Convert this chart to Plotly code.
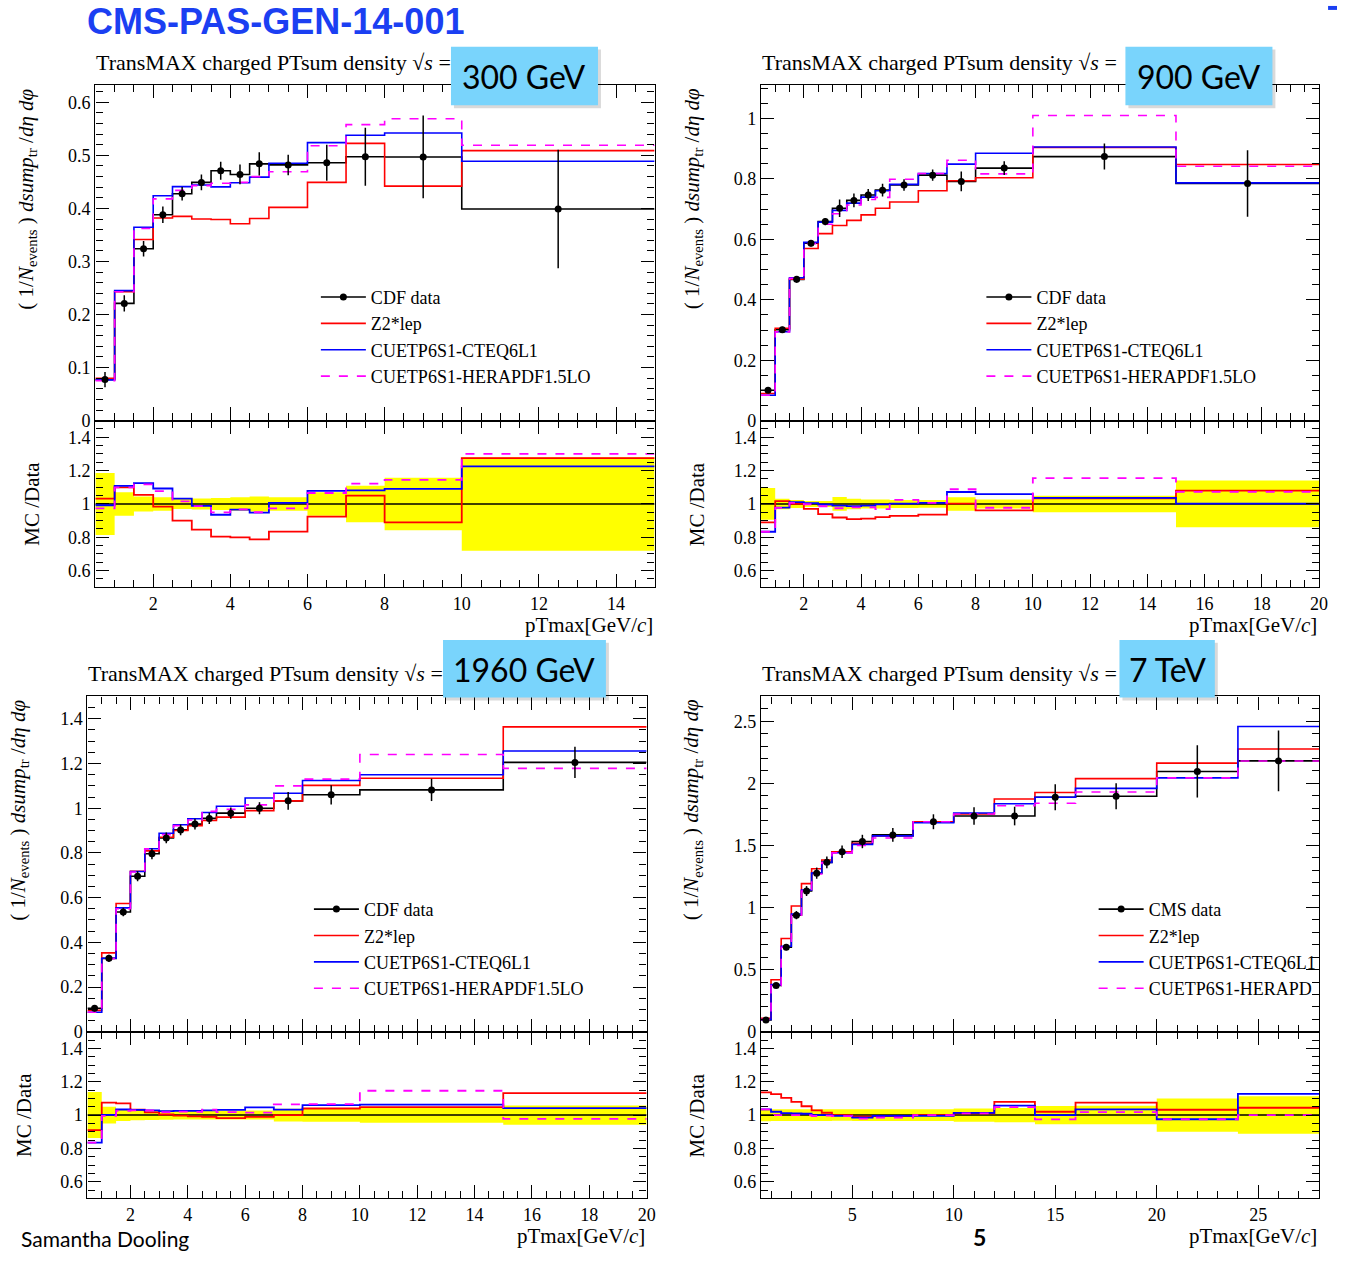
import plotly.graph_objects as go

W, H = 1346, 1262

# ---------------- data ----------------
# 300 GeV
edges_300 = [0.5, 1, 1.5, 2, 2.5, 3, 3.5, 4, 4.5, 5, 6, 7, 8, 10, 15]
data_300 = [0.0775, 0.221, 0.324, 0.388, 0.4275, 0.449, 0.471, 0.464, 0.484, 0.482, 0.486, 0.4975, 0.497, 0.399]
err_300 = [0.0144, 0.0155, 0.0146, 0.0155, 0.0128, 0.0148, 0.017, 0.0186, 0.0218, 0.0193, 0.034, 0.0547, 0.078, 0.1117]
red_300 = [0.080, 0.243, 0.3415, 0.382, 0.385, 0.380, 0.379, 0.371, 0.381, 0.402, 0.449, 0.5225, 0.442, 0.509]
blue_300 = [0.0769, 0.245, 0.3645, 0.424, 0.441, 0.444, 0.4405, 0.4485, 0.459, 0.485, 0.524, 0.538, 0.542, 0.489]
mag_300 = [0.0755, 0.243, 0.362, 0.418, 0.434, 0.443, 0.4475, 0.449, 0.46, 0.469, 0.518, 0.558, 0.569, 0.519]

# 900 GeV
edges_900 = [0.5, 1, 1.5, 2, 2.5, 3, 3.5, 4, 4.5, 5, 6, 7, 8, 10, 15, 20]
data_900 = [0.1008, 0.301, 0.4677, 0.587, 0.659, 0.703, 0.729, 0.747, 0.763, 0.780, 0.8127, 0.792, 0.836, 0.874, 0.785]
err_900 = [0.0096, 0.0094, 0.011, 0.0105, 0.012, 0.029, 0.0227, 0.020, 0.021, 0.019, 0.019, 0.0325, 0.023, 0.043, 0.11]
red_900 = [0.0897, 0.306, 0.468, 0.570, 0.619, 0.646, 0.663, 0.681, 0.703, 0.724, 0.761, 0.794, 0.804, 0.904, 0.848]
blue_900 = [0.084, 0.2945, 0.473, 0.590, 0.657, 0.696, 0.720, 0.740, 0.761, 0.782, 0.818, 0.849, 0.885, 0.906, 0.787]
mag_900 = [0.084, 0.294, 0.471, 0.586, 0.650, 0.685, 0.714, 0.732, 0.739, 0.799, 0.818, 0.862, 0.817, 1.01, 0.842]

# 1960 GeV
edges_1960 = [0.5, 1, 1.5, 2, 2.5, 3, 3.5, 4, 4.5, 5, 6, 7, 8, 10, 15, 20]
data_1960 = [0.105, 0.3285, 0.536, 0.6956, 0.796, 0.867, 0.903, 0.929, 0.9545, 0.978, 1.0, 1.033, 1.06, 1.082, 1.205]
err_1960 = [0.0145, 0.0164, 0.0188, 0.022, 0.024, 0.024, 0.0245, 0.024, 0.025, 0.0254, 0.027, 0.040, 0.043, 0.050, 0.070]
red_1960 = [0.0955, 0.353, 0.574, 0.718, 0.809, 0.870, 0.900, 0.922, 0.945, 0.960, 0.989, 1.033, 1.102, 1.134, 1.364]
blue_1960 = [0.0876, 0.329, 0.554, 0.717, 0.819, 0.888, 0.926, 0.953, 0.981, 1.009, 1.046, 1.067, 1.124, 1.150, 1.256]
mag_1960 = [0.0876, 0.327, 0.550, 0.715, 0.818, 0.882, 0.922, 0.947, 0.986, 0.995, 1.015, 1.100, 1.130, 1.240, 1.178]

# 7 TeV
edges_7000 = [0.5, 1, 1.5, 2, 2.5, 3, 3.5, 4, 5, 6, 8, 10, 12, 14, 16, 20, 24, 28]
data_7000 = [0.0957, 0.372, 0.681, 0.939, 1.133, 1.277, 1.364, 1.449, 1.532, 1.585, 1.691, 1.737, 1.737, 1.888, 1.896, 2.096, 2.181]
err_7000 = [0.0035, 0.013, 0.024, 0.033, 0.040, 0.045, 0.048, 0.050, 0.054, 0.056, 0.060, 0.070, 0.075, 0.104, 0.105, 0.210, 0.245]
red_7000 = [0.1088, 0.419, 0.751, 1.013, 1.193, 1.313, 1.383, 1.449, 1.517, 1.576, 1.691, 1.754, 1.874, 1.926, 2.038, 2.163, 2.277]
blue_7000 = [0.099, 0.3795, 0.689, 0.948, 1.142, 1.277, 1.364, 1.442, 1.509, 1.577, 1.683, 1.761, 1.836, 1.888, 1.960, 2.044, 2.458]
mag_7000 = [0.099, 0.372, 0.681, 0.939, 1.133, 1.270, 1.360, 1.440, 1.500, 1.560, 1.691, 1.754, 1.820, 1.840, 1.930, 2.044, 2.180]

names_mc = ["Z2*lep", "CUETP6S1-CTEQ6L1", "CUETP6S1-HERAPDF1.5LO"]
# the 7 TeV legend runs off the slide edge in the original; only the visible part is shown
names_mc_7000 = ["Z2*lep", "CUETP6S1-CTEQ6L1", "CUETP6S1-HERAPD"]
energy_labels = ["300 GeV", "900 GeV", "1960 GeV", "7 TeV"]
data_labels = ["CDF data", "CDF data", "CDF data", "CMS data"]

# ---------------- layout helpers ----------------
def px(x):
    return x / W


def py(y):
    return 1 - y / H


SERIF = "Liberation Serif"
RED, BLUE, MAG, YEL = "#ff0000", "#0000ff", "#ff00ff", "#ffff00"

panels = [
    dict(x0=96, x1=659, yt=86, ym=424, yb=592, edges=edges_300, data=data_300, err=err_300,
         red=red_300, blue=blue_300, mag=mag_300, yr=[0, 0.632], dy=0.1, mdy=0.02,
         xr=[0.5, 15], dx=2, mdx=0.5, leg=(318, 281), names=names_mc),
    dict(x0=766, x1=1328, yt=86, ym=424, yb=592, edges=edges_900, data=data_900, err=err_900,
         red=red_900, blue=blue_900, mag=mag_900, yr=[0, 1.11], dy=0.2, mdy=0.05,
         xr=[0.5, 20], dx=2, mdx=0.5, leg=(988, 281), names=names_mc),
    dict(x0=88, x1=651, yt=702, ym=1040, yb=1208, edges=edges_1960, data=data_1960, err=err_1960,
         red=red_1960, blue=blue_1960, mag=mag_1960, yr=[0, 1.50], dy=0.2, mdy=0.05,
         xr=[0.5, 20], dx=2, mdx=0.5, leg=(311, 898), names=names_mc),
    dict(x0=766, x1=1328, yt=702, ym=1040, yb=1208, edges=edges_7000, data=data_7000, err=err_7000,
         red=red_7000, blue=blue_7000, mag=mag_7000, yr=[0, 2.70], dy=0.5, mdy=0.1,
         xr=[0.5, 28], dx=5, mdx=1, leg=(1101, 898), names=names_mc_7000),
]

fig = go.Figure()
layout = dict(width=W, height=H, margin=dict(l=0, r=0, t=0, b=0),
              paper_bgcolor="white", plot_bgcolor="white", showlegend=True)


def step(edges, vals):
    return list(edges), list(vals) + [vals[-1]]


def axis_common(rng, dt, mdt, showlabels=True):
    return dict(range=rng, dtick=dt, tick0=0, ticks="inside", ticklen=13, tickwidth=1,
                tickcolor="black", showline=True, linecolor="black", linewidth=1.3,
                mirror="allticks", showgrid=False, zeroline=False,
                showticklabels=showlabels,
                tickfont=dict(family=SERIF, size=18, color="black"),
                minor=dict(dtick=mdt, ticks="inside", ticklen=7, tickwidth=1,
                           tickcolor="black", showgrid=False))


annotations = []
shapes = []

for i, p in enumerate(panels):
    n = i + 1
    xm = 2 * i + 1
    xr_ = 2 * i + 2
    xm_name = "x" if xm == 1 else f"x{xm}"
    ym_name = "y" if xm == 1 else f"y{xm}"
    xr_name = f"x{xr_}"
    yr_name = f"y{xr_}"
    legname = "legend" if n == 1 else f"legend{n}"

    xdom = [px(p["x0"]), px(p["x1"])]
    layout["xaxis" if xm == 1 else f"xaxis{xm}"] = dict(
        domain=xdom, anchor=ym_name, matches=xr_name, **axis_common(p["xr"], p["dx"], p["mdx"], False))
    layout["yaxis" if xm == 1 else f"yaxis{xm}"] = dict(
        domain=[py(p["ym"]), py(p["yt"])], anchor=xm_name, **axis_common(p["yr"], p["dy"], p["mdy"]))
    layout[f"xaxis{xr_}"] = dict(domain=xdom, anchor=yr_name, **axis_common(p["xr"], p["dx"], p["mdx"]))
    layout[f"yaxis{xr_}"] = dict(domain=[py(p["yb"]), py(p["ym"])], anchor=xr_name,
                                 **axis_common([0.5, 1.5], 0.2, 0.05))

    edges, data, err = p["edges"], p["data"], p["err"]
    centers = [(edges[k] + edges[k + 1]) / 2 for k in range(len(data))]
    rel = [e / d for e, d in zip(err, data)]

    # ratio: yellow band
    xs, lo = step(edges, [1 - r for r in rel])
    _, hi = step(edges, [1 + r for r in rel])
    fig.add_trace(go.Scatter(x=xs, y=lo, xaxis=xr_name, yaxis=yr_name, mode="lines",
                             line=dict(width=0, shape="hv", color=YEL), showlegend=False, hoverinfo="skip"))
    fig.add_trace(go.Scatter(x=xs, y=hi, xaxis=xr_name, yaxis=yr_name, mode="lines", fill="tonexty",
                             fillcolor=YEL, line=dict(width=0, shape="hv", color=YEL),
                             showlegend=False, hoverinfo="skip"))
    _, one = step(edges, [d / d for d in data])
    fig.add_trace(go.Scatter(x=xs, y=one, xaxis=xr_name, yaxis=yr_name, mode="lines",
                             line=dict(width=1.5, shape="hv", color="black"), showlegend=False))
    for vals, col, dash in [(p["red"], RED, "solid"), (p["blue"], BLUE, "solid"), (p["mag"], MAG, "dash")]:
        _, rr = step(edges, [v / d for v, d in zip(vals, data)])
        fig.add_trace(go.Scatter(x=xs, y=rr, xaxis=xr_name, yaxis=yr_name, mode="lines",
                                 line=dict(width=1.8, shape="hv", color=col, dash=dash), showlegend=False))

    # main: data step line
    _, ds = step(edges, data)
    fig.add_trace(go.Scatter(x=xs, y=ds, xaxis=xm_name, yaxis=ym_name, mode="lines",
                             line=dict(width=1.6, shape="hv", color="black"), showlegend=False))
    # legend entry for data
    fig.add_trace(go.Scatter(x=[None], y=[None], xaxis=xm_name, yaxis=ym_name, mode="lines+markers",
                             name=data_labels[i], legend=legname,
                             line=dict(width=1.6, color="black"), marker=dict(size=7, color="black")))
    for vals, col, dash, nm in [(p["red"], RED, "solid", p["names"][0]), (p["blue"], BLUE, "solid", p["names"][1]),
                                (p["mag"], MAG, "dash", p["names"][2])]:
        _, mm = step(edges, vals)
        fig.add_trace(go.Scatter(x=xs, y=mm, xaxis=xm_name, yaxis=ym_name, mode="lines", name=nm,
                                 legend=legname,
                                 line=dict(width=1.6, shape="hv", color=col, dash=dash)))
    # data points
    fig.add_trace(go.Scatter(x=centers, y=data, xaxis=xm_name, yaxis=ym_name, mode="markers",
                             marker=dict(size=7, color="black"), showlegend=False,
                             error_y=dict(type="data", array=err, color="black", thickness=1.5, width=0)))

    lx, ly = p["leg"]
    layout[legname] = dict(x=px(lx), y=py(ly), xanchor="left", yanchor="top", traceorder="normal",
                           bgcolor="rgba(0,0,0,0)", itemwidth=45, tracegroupgap=0,
                           font=dict(family=SERIF, size=18, color="black"))

    # titles
    annotations.append(dict(x=px(p["x0"] - 1), y=py(p["yt"] - 23), xref="paper", yref="paper",
                            xanchor="left", yanchor="middle", showarrow=False,
                            text="TransMAX charged PTsum density √<i>s</i> =",
                            font=dict(family=SERIF, size=22, color="black")))
    # y titles
    ytx = p["x0"] - 69
    annotations.append(dict(x=px(ytx), y=py(p["yt"] + 1), xref="paper", yref="paper",
                            xanchor="center", yanchor="top", showarrow=False, textangle=-90,
                            text="( 1/<i>N</i><sub>events</sub> ) <i>dsump</i><sub>tr</sub> /<i>dη</i> <i>dφ</i>",
                            font=dict(family=SERIF, size=21, color="black")))
    annotations.append(dict(x=px(ytx + 5), y=py((p["ym"] + p["yb"]) / 2), xref="paper", yref="paper",
                            xanchor="center", yanchor="middle", showarrow=False, textangle=-90,
                            text="MC /Data", font=dict(family=SERIF, size=21, color="black")))
    # x title
    annotations.append(dict(x=px(p["x1"]), y=py(p["yb"] + 38), xref="paper", yref="paper",
                            xanchor="right", yanchor="middle", showarrow=False,
                            text="pTmax[GeV/<i>c</i>]", font=dict(family=SERIF, size=21, color="black")))

# energy boxes
boxes = [(454, 602, 47, 106), (1133, 1281, 47, 106), (446, 610, 645, 703), (1127, 1223, 645, 703)]
for (bx0, bx1, by0, by1), lab in zip(boxes, energy_labels):
    shapes.append(dict(type="rect", xref="paper", yref="paper", x0=px(bx0 + 3), x1=px(bx1 + 3),
                       y0=py(by1 + 3), y1=py(by0 + 3), fillcolor="rgba(0,0,0,0.15)", line=dict(width=0),
                       layer="above"))
    shapes.append(dict(type="rect", xref="paper", yref="paper", x0=px(bx0), x1=px(bx1),
                       y0=py(by1), y1=py(by0), fillcolor="#79d4fc", line=dict(width=0), layer="above"))
    annotations.append(dict(x=px((bx0 + bx1) / 2), y=py((by0 + by1) / 2 + 1), xref="paper", yref="paper",
                            xanchor="center", yanchor="middle", showarrow=False, text=lab,
                            font=dict(family="Lato", size=32, color="black")))

# page title
annotations.append(dict(x=px(86), y=py(22), xref="paper", yref="paper", xanchor="left", yanchor="middle",
                        showarrow=False, text="<b>CMS-PAS-GEN-14-001</b>",
                        font=dict(family="Liberation Sans", size=36, color="#1b3ff2")))
shapes.append(dict(type="rect", xref="paper", yref="paper", x0=px(1337), x1=1, y0=py(10), y1=py(6),
                   fillcolor="#1b3ff2", line=dict(width=0)))

# slide footer, kept fully inside the page and clear of the tick labels
annotations.append(dict(x=px(20), y=0, xref="paper", yref="paper", xanchor="left", yanchor="bottom",
                        showarrow=False, text="Samantha Dooling", borderpad=0,
                        font=dict(family="Lato", size=21, color="black")))
annotations.append(dict(x=px(986), y=0, xref="paper", yref="paper", xanchor="center", yanchor="bottom",
                        showarrow=False, text="<b>5</b>", borderpad=0,
                        font=dict(family="Lato", size=23, color="black")))

layout["annotations"] = annotations
layout["shapes"] = shapes
fig.update_layout(**layout)

# no page margin and no scrollbars, so the 1346x1262 figure fills the window exactly
page_js = (
    "document.documentElement.style.overflow='hidden';"
    "document.documentElement.style.margin='0';"
    "document.body.style.margin='0';document.body.style.overflow='hidden';"
    "var gd=document.getElementById('{plot_id}');"
    "gd.style.overflow='hidden';"
    "gd.querySelectorAll('.svg-container').forEach(function(e){e.style.overflow='hidden';});"
)
fig.write_html("out.html", post_script=page_js)
